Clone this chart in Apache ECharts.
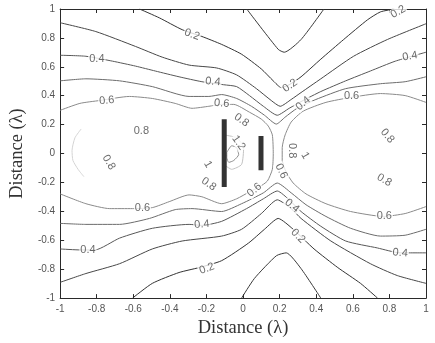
<!DOCTYPE html>
<html>
<head>
<meta charset="utf-8">
<script src="https://cdn.jsdelivr.net/npm/echarts@6/dist/echarts.min.js"></script>
<style>
  html, body { margin: 0; padding: 0; background: #fff; }
  #main { width: 435px; height: 343px; }
</style>
</head>
<body>
<div id="main"></div>
<script>
// 等值线，[x, y]，单位 λ
const c01Top = [[0.02, 1], [0.192, 0.721], [0.225, 0.701], [0.317, 0.789], [0.442, 1]]
const c01Bot = [[-0.008, -1], [0.062, -0.864], [0.182, -0.707], [0.236, -0.687], [0.317, -0.796], [0.425, -1]]
const c02Top = [[-0.566, 1], [-0.458, 0.939], [-0.333, 0.857], [-0.225, 0.81], [-0.117, 0.755], [-0.008, 0.687],
  [0.1, 0.585], [0.165, 0.503], [0.209, 0.456], [0.252, 0.476], [0.317, 0.531], [0.425, 0.653], [0.55, 0.789],
  [0.68, 0.925], [0.751, 0.98], [0.827, 1]]
const c02Bot = [[-0.604, -1], [-0.496, -0.898], [-0.35, -0.823], [-0.241, -0.789], [-0.117, -0.741], [0.03, -0.619],
  [0.117, -0.524], [0.192, -0.449], [0.274, -0.524], [0.388, -0.66], [0.518, -0.789], [0.642, -0.898], [0.735, -1]]
const c03Top = [[-1, 0.905], [-0.805, 0.844], [-0.588, 0.741], [-0.442, 0.667], [-0.295, 0.612], [-0.144, 0.592],
  [-0.035, 0.544], [0.073, 0.449], [0.154, 0.367], [0.203, 0.327], [0.263, 0.374], [0.317, 0.422], [0.425, 0.517],
  [0.604, 0.673], [0.789, 0.789], [1, 0.898]]
const c03Bot = [[-1, -0.891], [-0.859, -0.83], [-0.675, -0.762], [-0.496, -0.66], [-0.333, -0.605], [-0.117, -0.571],
  [-0.008, -0.524], [0.1, -0.415], [0.187, -0.32], [0.263, -0.381], [0.317, -0.449], [0.48, -0.605], [0.696, -0.762],
  [0.843, -0.844], [1, -0.898]]
const c04Top = [[-1, 0.68], [-0.859, 0.673], [-0.713, 0.639], [-0.588, 0.605], [-0.48, 0.571], [-0.35, 0.531],
  [-0.225, 0.497], [-0.106, 0.476], [-0.035, 0.463], [0.035, 0.401], [0.111, 0.327], [0.187, 0.265], [0.252, 0.313],
  [0.328, 0.367], [0.425, 0.429], [0.561, 0.503], [0.696, 0.571], [0.832, 0.639], [1, 0.701]]
const c04Bot = [[-1, -0.66], [-0.886, -0.667], [-0.81, -0.667], [-0.675, -0.585], [-0.496, -0.517], [-0.295, -0.49],
  [-0.225, -0.497], [-0.117, -0.469], [0.019, -0.381], [0.111, -0.313], [0.187, -0.259], [0.252, -0.32], [0.317, -0.401],
  [0.425, -0.503], [0.561, -0.605], [0.734, -0.653], [0.859, -0.687], [1, -0.687]]
const c05Top = [[-1, 0.503], [-0.859, 0.517], [-0.675, 0.503], [-0.496, 0.463], [-0.295, 0.395], [-0.187, 0.395],
  [-0.117, 0.408], [-0.035, 0.381], [0.046, 0.327], [0.117, 0.265], [0.182, 0.204], [0.23, 0.252], [0.295, 0.313],
  [0.398, 0.374], [0.561, 0.449], [0.751, 0.483], [0.886, 0.497], [1, 0.531]]
const c05Bot = [[-1, -0.483], [-0.859, -0.49], [-0.675, -0.49], [-0.512, -0.449], [-0.371, -0.388], [-0.279, -0.381],
  [-0.117, -0.401], [-0.008, -0.347], [0.111, -0.272], [0.187, -0.204], [0.263, -0.272], [0.344, -0.354], [0.453, -0.435],
  [0.588, -0.517], [0.751, -0.571], [0.886, -0.565], [1, -0.524]]
// 0.6：左侧（绕过阵元）与右侧波瓣
const c06Left = [[-1, 0.299], [-0.892, 0.347], [-0.783, 0.367], [-0.621, 0.395], [-0.496, 0.381], [-0.371, 0.347],
  [-0.279, 0.313], [-0.187, 0.327], [-0.117, 0.34], [-0.051, 0.34], [0.035, 0.286], [0.1, 0.238], [0.138, 0.19],
  [0.16, 0.129], [0.165, 0], [0.16, -0.109], [0.133, -0.19], [0.089, -0.231], [0.035, -0.265], [-0.035, -0.313],
  [-0.117, -0.347], [-0.225, -0.299], [-0.295, -0.286], [-0.404, -0.333], [-0.496, -0.374], [-0.604, -0.381],
  [-0.729, -0.381], [-0.859, -0.347], [-1, -0.279]]
const c06Right = [[1, 0.354], [0.886, 0.401], [0.751, 0.415], [0.588, 0.388], [0.453, 0.354], [0.328, 0.293],
  [0.263, 0.218], [0.23, 0.129], [0.214, 0.041], [0.214, -0.048], [0.236, -0.129], [0.274, -0.204], [0.344, -0.279],
  [0.453, -0.347], [0.588, -0.401], [0.767, -0.435], [0.886, -0.415], [1, -0.367]]
const c08Arc = [[-0.885, 0.17], [-0.919, 0.109], [-0.935, 0.02], [-0.93, -0.048], [-0.902, -0.109], [-0.87, -0.16]]
const c10Ring = [[-0.106, 0.129], [-0.035, 0.109], [0.003, 0.041], [-0.008, -0.075], [-0.062, -0.109], [-0.106, -0.075]]
const c12Loop = [[-0.089, 0.007], [-0.062, 0.054], [-0.035, 0.041], [-0.024, -0.007], [-0.051, -0.048],
  [-0.078, -0.061], [-0.089, -0.027], [-0.089, 0.007]]

// 每条线的等值
const lineList = [c01Top, c01Bot, c02Top, c02Bot, c03Top, c03Bot, c04Top, c04Bot,
  c05Top, c05Bot, c06Left, c06Right, c08Arc, c10Ring, c12Loop]
const lineLevel = [0.1, 0.1, 0.2, 0.2, 0.3, 0.3, 0.4, 0.4, 0.5, 0.5, 0.6, 0.6, 0.8, 1.0, 1.2]

// 阵元
const elemLeft = [[-0.103, 0.238], [-0.103, -0.231]]
const elemRight = [[0.098, 0.122], [0.098, -0.116]]

// 等值线标注
const labelText = ['0.2', '0.2', '0.2', '0.4', '0.4', '0.4', '0.4', '0.6', '0.6', '0.6', '0.8', '0.8', '1.2', '0.8',
  '1', '0.8', '0.8', '1', '0.8', '0.6', '0.6', '0.4', '0.2', '0.8', '0.6', '0.4', '0.6', '0.4', '0.4', '0.2']
const labelPos = [[-0.279, 0.823], [0.257, 0.469], [0.848, 0.98], [-0.799, 0.653], [-0.165, 0.497], [0.328, 0.347],
  [0.913, 0.673], [-0.745, 0.367], [-0.117, 0.347], [0.593, 0.401], [-0.556, 0.156], [-0.008, 0.231], [-0.024, 0.075],
  [0.268, 0.02], [0.339, -0.014], [0.789, 0.122], [-0.734, -0.061], [-0.192, -0.075], [-0.187, -0.211], [0.062, -0.252],
  [0.209, -0.122], [0.268, -0.361], [0.301, -0.571], [0.772, -0.184], [0.772, -0.435], [0.859, -0.687], [-0.55, -0.374],
  [-0.848, -0.667], [-0.225, -0.49], [-0.198, -0.796]]
const labelAngle = [-20, 35, 30, 0, -5, 40, 10, 5, -5, 0, 0, -35, -55, -90, -60, -50, -60, -60, -35, 40,
  -65, -40, -45, -30, 0, -5, 0, 0, 5, 20]

// 坐标轴
const axisMin = -1
const axisMax = 1
const tickStep = 0.2

// 线条颜色：值越大越浅
function levelColor(level) {
  const colors = { 0.1: '#3a3a3a', 0.2: '#333333', 0.3: '#474747', 0.4: '#575757', 0.5: '#6c6c6c',
    0.6: '#8a8a8a', 0.8: '#d4d4d4', 1: '#c2c2c2', 1.2: '#8c8c8c' }
  return colors[level]
}

const series = []
lineList.forEach((pts, i) => {
  series.push({
    type: 'line',
    data: pts,
    symbol: 'none',
    smooth: 0.2,
    silent: true,
    z: 2,
    lineStyle: { color: levelColor(lineLevel[i]), width: 1 }
  })
})
// 阵元（粗线）
;[elemLeft, elemRight].forEach(pts => {
  series.push({
    type: 'line',
    data: pts,
    symbol: 'none',
    silent: true,
    z: 4,
    lineStyle: { color: '#333', width: 5, cap: 'butt' }
  })
})
// 标注
series.push({
  type: 'scatter',
  symbolSize: 1,
  silent: true,
  z: 6,
  itemStyle: { color: 'rgba(0,0,0,0)' },
  data: labelPos.map((p, i) => ({ value: p, name: labelText[i], label: { rotate: labelAngle[i] } })),
  label: {
    show: true,
    position: 'inside',
    formatter: '{b}',
    fontFamily: 'Liberation Sans',
    fontSize: 11,
    color: '#454545',
    backgroundColor: '#fff',
    padding: [0, 1]
  }
})

const axisCommon = {
  type: 'value',
  min: axisMin,
  max: axisMax,
  interval: tickStep,
  splitLine: { show: false },
  axisLine: { show: true, onZero: false, lineStyle: { color: '#2a2a2a', width: 1 } },
  axisTick: { show: true, inside: true, length: 4, lineStyle: { color: '#2a2a2a' } }
}
const tickFont = { fontFamily: 'Liberation Sans', fontSize: 10, color: '#555' }
const titleFont = { fontFamily: 'Liberation Serif', fontSize: 18.5, color: '#333' }

const option = {
  animation: false,
  grid: { left: 57, right: 9, top: 9, bottom: 42 },
  xAxis: [
    Object.assign({}, axisCommon, {
      position: 'bottom',
      axisLabel: Object.assign({ margin: 6 }, tickFont),
      name: 'Distance (λ)',
      nameLocation: 'middle',
      nameGap: 18,
      nameTextStyle: titleFont
    }),
    Object.assign({}, axisCommon, { position: 'top', axisLabel: { show: false } })
  ],
  yAxis: [
    Object.assign({}, axisCommon, {
      position: 'left',
      axisLabel: Object.assign({ margin: 5 }, tickFont),
      name: 'Distance (λ)',
      nameLocation: 'middle',
      nameGap: 32,
      nameTextStyle: titleFont
    }),
    Object.assign({}, axisCommon, { position: 'right', axisLabel: { show: false } })
  ],
  series
}

const chart = echarts.init(document.getElementById('main'))
chart.setOption(option)
</script>
</body>
</html>
